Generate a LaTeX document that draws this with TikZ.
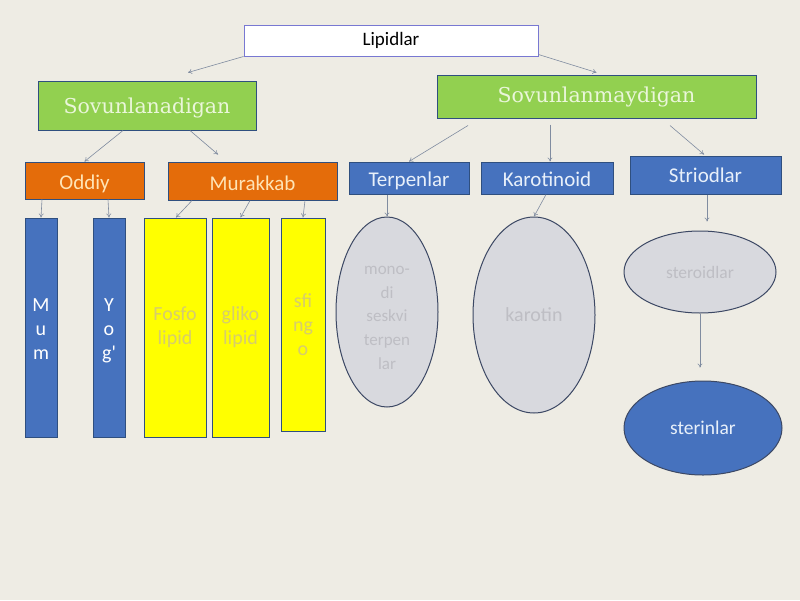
\documentclass[tikz,border=0pt]{standalone}
\usepackage{fontspec}
\setmainfont{Carlito}
\newfontfamily\serifx{DejaVu Serif}
\usetikzlibrary{shapes.geometric,arrows.meta}
\definecolor{bgc}{RGB}{238,236,228}
\definecolor{grn}{RGB}{146,208,80}
\definecolor{grntxt}{RGB}{234,246,218}
\definecolor{org}{RGB}{228,108,10}
\definecolor{orgtxt}{RGB}{255,228,181}
\definecolor{blu}{RGB}{70,114,190}
\definecolor{blutxt}{RGB}{232,240,250}
\definecolor{bord}{RGB}{47,79,127}
\definecolor{ylw}{RGB}{255,255,0}
\definecolor{ylwtxt}{RGB}{214,204,110}
\definecolor{elf}{RGB}{216,217,222}
\definecolor{eltxt}{RGB}{190,190,196}
\definecolor{elbord}{RGB}{60,72,100}
\definecolor{lipb}{RGB}{120,120,210}
\definecolor{arrc}{RGB}{128,140,160}
\newcommand{\lowerby}[2]{\raisebox{-#1}[\height][\depth]{#2}}
\tikzset{
  box/.style={draw=bord,line width=1pt,rectangle,inner sep=0pt,align=center},
  greenbox/.style={box,fill=grn,text=grntxt,font=\serifx\fontsize{20.5}{24}\selectfont},
  orangebox/.style={box,fill=org,text=orgtxt,font=\fontsize{21}{24}\selectfont},
  bluebox/.style={box,fill=blu,text=blutxt,font=\fontsize{21}{24}\selectfont},
  tallblue/.style={box,fill=blu,text=white,font=\fontsize{20}{24}\selectfont},
  tallyellow/.style={box,fill=ylw,text=ylwtxt,font=\fontsize{20}{24}\selectfont},
  grayell/.style={draw=elbord,line width=1pt,ellipse,fill=elf,text=eltxt,inner sep=0pt,align=center},
  arr/.style={draw=arrc,line width=0.6pt,-{To[length=4pt,width=5pt]}}
}
\begin{document}
\begin{tikzpicture}[x=1pt,y=-1pt]
\fill[bgc] (0,0) rectangle (800,600);
\useasboundingbox (0,0) rectangle (800,600);
% top
\node[box,draw=lipb,fill=white,text=black,font=\fontsize{19}{22}\selectfont,minimum width=294pt,minimum height=31pt] (lip) at (391,40.5) {Lipidlar};
\node[greenbox,minimum width=218pt,minimum height=49pt] (sov1) at (147,105.5) {\lowerby{2pt}{Sovunlanadigan}};
\node[greenbox,minimum width=319pt,minimum height=43pt] (sov2) at (596.5,96.5) {Sovunlanmaydigan};
% second level
\node[orangebox,minimum width=119pt,minimum height=37pt] (odd) at (84.5,180.5) {\lowerby{3pt}{Oddiy}};
\node[orangebox,minimum width=169pt,minimum height=38pt] (mur) at (252.5,181) {\lowerby{2pt}{Murakkab}};
\node[bluebox,minimum width=120pt,minimum height=32pt] (ter) at (409,178) {\lowerby{3pt}{Terpenlar}};
\node[bluebox,minimum width=132pt,minimum height=32pt] (kar) at (547,178) {\lowerby{1pt}{Karotinoid}};
\node[bluebox,minimum width=151pt,minimum height=38pt] (str) at (705.5,175) {Striodlar};
% third level
\node[tallblue,minimum width=32pt,minimum height=219pt] (mum) at (41,327.5) {\lowerby{3pt}{\begin{tabular}{@{}c@{}}M\\u\\m\end{tabular}}};
\node[tallblue,minimum width=32pt,minimum height=219pt] (yog) at (109,327.5) {\lowerby{3pt}{\begin{tabular}{@{}c@{}}Y\\o\\g\textquotesingle\end{tabular}}};
\node[tallyellow,minimum width=62pt,minimum height=219pt] (fos) at (175,327.5) {Fosfo\\lipid};
\node[tallyellow,minimum width=57pt,minimum height=219pt] (gli) at (240.5,327.5) {gliko\\lipid};
\node[tallyellow,minimum width=44pt,minimum height=213pt] (sfi) at (303,324.5) {sfi\\ng\\o};
\node[grayell,minimum width=102pt,minimum height=190pt,font=\fontsize{17}{23.7}\selectfont] (mono) at (387,312) {\lowerby{5pt}{\begin{tabular}{@{}c@{}}mono-\\di\\seskvi\\terpen\\lar\end{tabular}}};
\node[grayell,minimum width=122pt,minimum height=196pt,font=\fontsize{20}{24}\selectfont] (kart) at (534,315) {karotin};
\node[grayell,minimum width=152pt,minimum height=82pt,font=\fontsize{17.5}{20}\selectfont] (ste) at (700,272) {steroidlar};
\node[draw=elbord,line width=1pt,ellipse,fill=blu,text=blutxt,inner sep=0pt,minimum width=158pt,minimum height=94pt,font=\fontsize{19.5}{22}\selectfont] (sterin) at (703,428) {sterinlar};
% arrows
\draw[arr] (lip.south west) -- ([xshift=41pt,yshift=8pt]sov1.north);
\draw[arr] ([yshift=2pt]lip.south east) -- ([yshift=2pt]sov2.north);
\draw[arr] ([xshift=-24pt]sov1.south) -- (odd.north);
\draw[arr] ([xshift=43pt]sov1.south) -- ([xshift=-34.5pt,yshift=7pt]mur.north);
\draw[arr] ([xshift=-128.5pt,yshift=-7pt]sov2.south) -- (ter.north);
\draw[arr] ([xshift=-46.5pt,yshift=-6pt]sov2.south) -- ([xshift=3pt]kar.north);
\draw[arr] ([xshift=73.5pt,yshift=-7pt]sov2.south) -- ([xshift=-1.5pt,yshift=1pt]str.north);
\draw[arr] ([xshift=-42.5pt]odd.south) -- (mum.north);
\draw[arr] ([xshift=23.5pt]odd.south) -- (yog.north);
\draw[arr] ([xshift=-60.5pt]mur.south) -- ([xshift=1pt]fos.north);
\draw[arr] ([xshift=-2.5pt]mur.south) -- (gli.north);
\draw[arr] ([xshift=52.5pt]mur.south) -- (sfi.north);
\draw[arr] ([xshift=-22pt]ter.south) -- (mono.north);
\draw[arr] ([xshift=-1pt]kar.south) -- (kart.north);
\draw[arr] ([xshift=1.5pt]str.south) -- ([xshift=7pt,yshift=9pt]ste.north);
\draw[arr] (ste.south) -- ([xshift=-3pt,yshift=13pt]sterin.north);
\end{tikzpicture}
\end{document}
